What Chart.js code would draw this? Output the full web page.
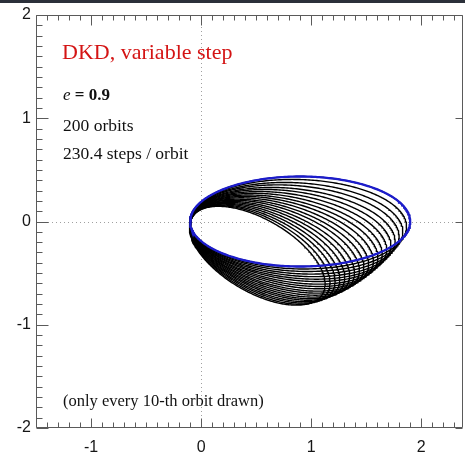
<!DOCTYPE html>
<html><head><meta charset="utf-8">
<script src="https://cdn.jsdelivr.net/npm/chart.js@4/dist/chart.umd.min.js"></script>
<style>
html,body{margin:0;padding:0;background:#fff;}
#wrap{position:relative;width:465px;height:454px;}
canvas{display:block;}
</style></head><body>
<div id="wrap"><canvas id="c" width="465" height="454"></canvas></div>
<script>
// ---- tick labels ----
const xTickValues = [-1, 0, 1, 2];
const yTickValues = [-2, -1, 0, 1, 2];

// ---- initial (exact) Kepler orbit, drawn in blue ----
const initialA = 1.0;
const initialE = 0.9;
const initialAngleDeg = 0;

// ---- every 10-th orbit (20 of 200) ----
// clockwise turn of the apocentre direction (deg), semi-major axis, eccentricity
const orbitAngleDeg = [0, 1.7, 3.5, 5.2, 7.0, 8.7, 10.4, 12.2, 13.9, 15.6, 17.4, 19.1, 20.8, 22.6, 24.3, 26.0, 27.8, 29.5, 31.3, 33.0];
const orbitSemiMajor = [1.00, 0.984, 0.968, 0.953, 0.937, 0.921, 0.905, 0.889, 0.874, 0.858, 0.842, 0.826, 0.811, 0.795, 0.779, 0.763, 0.747, 0.732, 0.716, 0.700];
const orbitEcc = [0.900, 0.898, 0.897, 0.895, 0.894, 0.892, 0.891, 0.889, 0.888, 0.886, 0.884, 0.883, 0.881, 0.880, 0.878, 0.877, 0.875, 0.874, 0.872, 0.870];

// ---- texts ----
const titleText = "DKD, variable step";
const eccLabel = "e";
const eccValueText = "= 0.9";
const orbitsText = "200 orbits";
const stepsText = "230.4 steps / orbit";
const noteText = "(only every 10-th orbit drawn)";

// Kepler ellipse with focus at the origin
function orbitPoints(a, e, angleDeg) {
  const b = a * Math.sqrt(1 - e * e);
  const phi = angleDeg * Math.PI / 180;
  const c = Math.cos(phi), s = Math.sin(phi);
  const pts = [];
  const n = 360;
  for (let i = 0; i <= n; i++) {
    const t = 2 * Math.PI * i / n;
    const x0 = a * e + a * Math.cos(t);
    const y0 = b * Math.sin(t);
    pts.push({x: x0 * c + y0 * s, y: -x0 * s + y0 * c});
  }
  return pts;
}

const datasets = [{
  data: orbitPoints(initialA, initialE, initialAngleDeg),
  borderColor: '#1c1ccc', borderWidth: 2.3, showLine: true, pointRadius: 0, fill: false
}];
for (let k = 0; k < orbitAngleDeg.length; k++) {
  datasets.push({
    data: orbitPoints(orbitSemiMajor[k], orbitEcc[k], orbitAngleDeg[k]),
    borderColor: '#000000', borderWidth: 1.4, showLine: true, pointRadius: 0, fill: false
  });
}

const AXIS_COLOR = '#5a5a5a';

const framePlugin = {
  id: 'frame',
  beforeDatasetsDraw(chart) {
    const {ctx, chartArea: ca, scales: {x, y}} = chart;
    ctx.save();
    ctx.strokeStyle = '#a0a0a0';
    ctx.lineWidth = 1;
    ctx.setLineDash([1, 3]);
    const x0 = Math.round(x.getPixelForValue(0)) + 0.5;
    const y0 = Math.round(y.getPixelForValue(0)) + 0.5;
    ctx.beginPath();
    ctx.moveTo(x0, ca.top); ctx.lineTo(x0, ca.bottom);
    ctx.moveTo(ca.left, y0); ctx.lineTo(ca.right, y0);
    ctx.stroke();
    ctx.restore();
  },
  afterDatasetsDraw(chart) {
    const {ctx, chartArea: ca, scales: {x, y}} = chart;
    ctx.save();
    ctx.strokeStyle = AXIS_COLOR;
    ctx.lineWidth = 1;
    ctx.setLineDash([]);
    const L = ca.left + 0.5, R = ca.right - 0.5, T = ca.top + 0.5, B = ca.bottom - 0.5;
    ctx.beginPath();
    ctx.rect(L, T, R - L, B - T);
    for (let i = Math.ceil(x.min * 10); i <= Math.floor(x.max * 10); i++) {
      const px = Math.round(x.getPixelForValue(i / 10)) + 0.5;
      const major = i % 10 === 0;
      ctx.moveTo(px, B); ctx.lineTo(px, B - (major ? 9 : 5));
      ctx.moveTo(px, T); ctx.lineTo(px, T + (major ? 10 : 5));
    }
    for (let i = Math.ceil(y.min * 10); i <= Math.floor(y.max * 10); i++) {
      const py = Math.round(y.getPixelForValue(i / 10)) + 0.5;
      const major = i % 10 === 0;
      ctx.moveTo(L, py); ctx.lineTo(L + (major ? 12 : 6), py);
      if (major) { ctx.moveTo(R, py); ctx.lineTo(R - 7, py); }
    }
    ctx.stroke();

    ctx.textBaseline = 'alphabetic';
    ctx.textAlign = 'left';
    ctx.fillStyle = '#d41414';
    ctx.font = '22px "Liberation Serif", "Times New Roman", serif';
    ctx.fillText(titleText, 62, 59);

    ctx.fillStyle = '#111';
    ctx.font = 'italic 17px "Liberation Serif", serif';
    ctx.fillText(eccLabel, 63, 100);
    const ew = ctx.measureText(eccLabel + ' ').width;
    ctx.font = 'bold 17px "Liberation Serif", serif';
    ctx.fillText(eccValueText, 63 + ew, 100);

    ctx.font = '17.5px "Liberation Serif", serif';
    ctx.fillText(orbitsText, 63, 131);
    ctx.fillText(stepsText, 63, 159);
    ctx.font = '16.5px "Liberation Serif", serif';
    ctx.fillText(noteText, 63, 406);
    ctx.restore();
  },
  afterDraw(chart) {
    const ctx = chart.ctx;
    ctx.save();
    ctx.fillStyle = '#2b303a';
    ctx.fillRect(0, 0, chart.width, 3);
    ctx.restore();
  }
};

const tickFont = {family: '"Liberation Sans", Arial, sans-serif', size: 16};

new Chart(document.getElementById('c'), {
  type: 'scatter',
  data: {datasets},
  options: {
    responsive: false,
    animation: false,
    devicePixelRatio: 1,
    layout: {padding: {top: 15, right: 2, left: 0, bottom: 0}},
    plugins: {legend: {display: false}, tooltip: {enabled: false}},
    elements: {line: {tension: 0}},
    scales: {
      x: {
        type: 'linear', min: -1.5, max: 2.38,
        grid: {display: false, drawTicks: false},
        border: {display: false},
        afterBuildTicks: (axis) => { axis.ticks = xTickValues.map(v => ({value: v})); },
        afterFit: (axis) => { axis.height = 26; },
        ticks: {font: tickFont, color: '#151515', padding: 10, autoSkip: false, maxRotation: 0,
                callback: (v) => String(v)}
      },
      y: {
        type: 'linear', min: -2, max: 2,
        grid: {display: false, drawTicks: false},
        border: {display: false},
        afterBuildTicks: (axis) => { axis.ticks = yTickValues.map(v => ({value: v})); },
        afterFit: (axis) => { axis.width = 36; },
        ticks: {font: tickFont, color: '#151515', padding: 5, autoSkip: false,
                callback: (v) => String(v)}
      }
    }
  },
  plugins: [framePlugin]
});
</script>
</body></html>
